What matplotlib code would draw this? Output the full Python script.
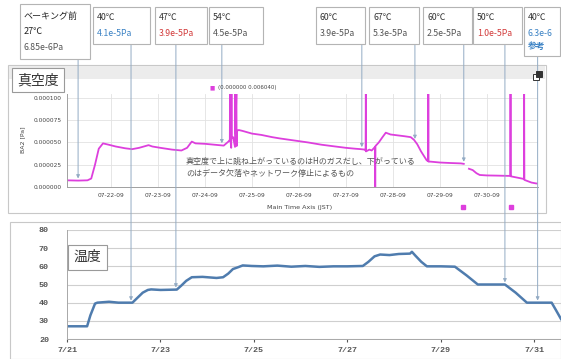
import matplotlib
matplotlib.use("Agg")
import matplotlib.pyplot as plt
import numpy as np
from matplotlib.patches import Rectangle
from matplotlib.transforms import blended_transform_factory

W, H = 561, 359
plt.rcParams["font.family"] = ["Noto Sans CJK JP", "DejaVu Sans"]

# --- data -------------------------------------------------------------------
# days counted from 7/21 00:00
# BA2 pressure in 1e-5 Pa (nan = data gap, 10.5 = spike off the scale)
press_day = [0.06, 0.30, 0.50, 0.58, 0.66, 0.74, 0.83, 0.95, 1.10, 1.30, 1.45,
             1.60, 1.80, 1.88, 2.05, 2.30, 2.50, 2.62, 2.72, 2.80, 3.00, 3.20,
             3.40, 3.50, 3.53, 3.535, 3.54, 3.56, 3.565, 3.57, 3.60, 3.64,
             3.645, 3.65, 3.67, 3.675, 3.68, 3.72, 3.80, 4.00, 4.20, 4.43,
             4.60, 4.80, 5.00, 5.20, 5.48, 5.70, 6.00, 6.20, 6.32, 6.40,
             6.42, 6.425, 6.43, 6.50, 6.55, 6.62, 6.625, 6.63, 6.70, 6.78,
             6.85, 6.95, 7.10, 7.25, 7.38, 7.45, 7.52, 7.60, 7.66, 7.72,
             7.75, 7.755, 7.76, 7.80, 8.00, 8.20, 8.45, 8.51, 8.56, 8.62,
             8.70, 8.78, 8.85, 9.00, 9.20, 9.45, 9.50, 9.505, 9.51, 9.70,
             9.79, 9.795, 9.80, 9.95, 10.05, 10.10]
press_val = [0.75, 0.72, 0.75, 0.95, 2.5, 4.3, 4.9, 4.75, 4.55, 4.35, 4.25,
             4.4, 4.7, 4.55, 4.4, 4.2, 4.1, 4.4, 5.1, 4.9, 4.85, 4.75,
             4.65, 5.1, 5.3, 10.5, 5.4, 4.4, 10.5, 5.5, 5.6, 4.5,
             10.5, 6.0, 10.5, 4.6, 6.3, 6.4, 6.3, 6.0, 5.85, 5.6,
             5.45, 5.3, 5.15, 5.0, 4.75, 4.6, 4.4, 4.3, 4.25, 4.2,
             4.1, 10.5, 4.0, 4.2, 4.1, 4.5, 0.0, 4.6, 5.0, 5.6,
             6.1, 5.9, 5.8, 5.7, 5.6, 5.3, 4.8, 4.0, 3.5, 3.0,
             2.9, 10.5, 2.85, 2.85, 2.75, 2.7, 2.65, 2.6, np.nan, 2.05,
             1.9, 1.55, 1.35, 1.3, 1.28, 1.25, 1.25, 10.5, 1.2, 1.0,
             0.9, 10.5, 0.8, 0.5, 0.4, 0.38]
marker_days = [8.49, 9.51]

temp_day = [0.0, 0.43, 0.50, 0.60, 0.65, 0.90, 1.10, 1.40, 1.50, 1.62, 1.73,
            1.80, 2.00, 2.35, 2.45, 2.55, 2.67, 2.90, 3.20, 3.34, 3.45, 3.55,
            3.66, 3.76, 3.95, 4.20, 4.50, 4.80, 5.10, 5.40, 5.70, 6.00, 6.33,
            6.45, 6.58, 6.70, 6.90, 7.10, 7.34, 7.38, 7.45, 7.58, 7.70, 8.00,
            8.30, 8.55, 8.79, 9.00, 9.37, 9.60, 9.84, 10.10, 10.37, 10.46,
            10.57]
temp_val = [27, 27, 33, 39.5, 40, 40.5, 40, 40, 42.5, 45.5, 47,
            47.3, 47, 47.2, 49.5, 52, 54, 54.2, 53.6, 54, 56, 58.5,
            59.5, 60.5, 60.2, 60, 60.4, 59.8, 60.2, 59.7, 60, 60, 60.2,
            62.5, 65.5, 66.5, 66.2, 66.8, 67, 68, 66, 62.5, 60, 60,
            59.8, 55, 50, 50, 50, 45.5, 40, 40, 40, 36, 31]

top_tick_days = [1, 2, 3, 4, 5, 6, 7, 8, 9]
top_tick_labels = ["07-22-09", "07-23-09", "07-24-09", "07-25-09", "07-26-09",
                   "07-27-09", "07-28-09", "07-29-09", "07-30-09"]
bot_tick_days = [0, 2, 4, 6, 8, 10]
bot_tick_labels = ["7/21", "7/23", "7/25", "7/27", "7/29", "7/31"]

box_heads = ["27℃", "40℃", "47℃", "54℃", "60℃", "67℃", "60℃", "50℃", "40℃"]
box_press = ["6.85e-6Pa", "4.1e-5Pa", "3.9e-5Pa", "4.5e-5Pa", "3.9e-5Pa",
             "5.3e-5Pa", "2.5e-5Pa", "1.0e-5Pa", "6.3e-6"]
box_colors = ["#555555", "#3b82c4", "#d23a3a", "#555555", "#555555",
              "#555555", "#555555", "#d23a3a", "#3b82c4"]
# which panel each callout points to, and at which day
arrow_panel = ["top", "bot", "bot", "top", "top", "top", "top", "bot", "bot"]
arrow_day = [0.30, 1.37, 2.33, 3.36, 6.34, 7.47, 8.51, 9.37, 10.07]

# layout (pixels)
box_x = [(20, 90), (93, 150), (155, 207), (209, 263), (316, 365),
         (369, 419), (423, 472), (473, 522), (524, 560)]
box_bottom = [59, 44, 44, 44, 44, 44, 44, 44, 56]

MAGENTA = "#dd3fdd"
STEEL = "#4f7cae"
ARROW = "#93abc4"
INK = "#444444"


def fx(px):
    return px / W


def fy(py):
    return 1 - py / H


def frect(x0, y0, x1, y1, **kw):
    fig.patches.append(Rectangle((fx(x0), fy(y1)), (x1 - x0) / W, (y1 - y0) / H,
                                 transform=fig.transFigure, **kw))


fig = plt.figure(figsize=(W / 100, H / 100), dpi=100)

# panel frames
frect(8, 65, 546, 213, facecolor="white", edgecolor="#c8c8c8", lw=0.8, zorder=-2)
frect(9, 66, 545, 79, facecolor="#ececec", edgecolor="none", zorder=-1)
frect(10, 222, 561, 359, facecolor="white", edgecolor="#c8c8c8", lw=0.8, zorder=-2)

# --- top panel: vacuum ------------------------------------------------------
ax_top = fig.add_axes([fx(67), fy(187), 471 / W, 92.6 / H])
ax_top.plot(press_day, np.array(press_val) * 1e-5, color=MAGENTA, lw=1.3)
ax_top.set_xlim(0.064, 10.09)
ax_top.set_ylim(0, 1.04e-4)
ax_top.set_yticks([0, 2.5e-5, 5e-5, 7.5e-5, 1e-4])
ax_top.set_yticklabels([f"{v:.6f}" for v in [0, 2.5e-5, 5e-5, 7.5e-5, 1e-4]],
                       family="DejaVu Sans")
ax_top.set_xticks(top_tick_days)
ax_top.set_xticklabels(top_tick_labels, family="DejaVu Sans")
ax_top.tick_params(labelsize=4.2, colors=INK, length=0, pad=4)
ax_top.grid(color="#e2e2e2", lw=0.6)
ax_top.set_axisbelow(True)
for s in ["top", "right"]:
    ax_top.spines[s].set_visible(False)
for s in ["left", "bottom"]:
    ax_top.spines[s].set_color("#a0a0a0")
    ax_top.spines[s].set_linewidth(0.7)

trans = blended_transform_factory(ax_top.transData, ax_top.transAxes)
ax_top.plot(marker_days, [-0.215] * len(marker_days), "s", ms=2.2,
            color=MAGENTA, transform=trans, clip_on=False)

fig.text(fx(23), fy(140), "BA2 [Pa]", rotation=90, ha="center", va="center",
         fontsize=4.5, color=INK, family="DejaVu Sans")
fig.text(fx(300), fy(208), "Main Time Axis (JST)", ha="center", va="center",
         fontsize=4.6, color=INK, family="DejaVu Sans")
fig.text(fx(212), fy(88), "■", ha="center", va="center", fontsize=4,
         color=MAGENTA, family="DejaVu Sans")
fig.text(fx(218), fy(88), "(0.000000 0.006040)", ha="left", va="center",
         fontsize=4, color=INK, family="DejaVu Sans")
fig.text(fx(186), fy(161), "真空度で上に跳ね上がっているのはHのガスだし、下がっている",
         ha="left", va="center", fontsize=5.8, color="#555555")
fig.text(fx(186), fy(173), "のはデータ欠落やネットワーク停止によるもの",
         ha="left", va="center", fontsize=5.8, color="#555555")

frect(12, 68, 64, 92, facecolor="white", edgecolor="#9a9a9a", lw=0.8, zorder=2)
fig.text(fx(38), fy(80), "真空度", ha="center", va="center", fontsize=10,
         color="#333333", zorder=3)
frect(533, 74, 539, 80, facecolor="white", edgecolor="#333333", lw=0.7, zorder=2)
frect(536, 71, 542, 77, facecolor="#333333", edgecolor="#333333", lw=0.7, zorder=2)

# --- bottom panel: temperature ------------------------------------------
ax_bot = fig.add_axes([fx(67), fy(339), (561 - 67) / W, 109 / H])
ax_bot.set_facecolor("none")
ax_bot.plot(temp_day, temp_val, color=STEEL, lw=1.8)
ax_bot.set_xlim(0, 10.57)
ax_bot.set_ylim(20, 80)
ax_bot.set_yticks(range(20, 81, 10))
ax_bot.set_xticks(bot_tick_days)
ax_bot.set_xticklabels(bot_tick_labels)
for lab in ax_bot.get_xticklabels() + ax_bot.get_yticklabels():
    lab.set_family("Liberation Mono")
    lab.set_fontweight("bold")
ax_bot.tick_params(axis="y", labelsize=6, colors="#555555", length=0, pad=13)
ax_bot.tick_params(axis="x", labelsize=6, colors="#555555", length=2, pad=4)
ax_bot.grid(axis="y", color="#cfcfcf", lw=0.8)
ax_bot.set_axisbelow(True)
for s in ["top", "right"]:
    ax_bot.spines[s].set_visible(False)
for s in ["left", "bottom"]:
    ax_bot.spines[s].set_color("#a8a8a8")
    ax_bot.spines[s].set_linewidth(0.7)

frect(68, 245, 107, 270, facecolor="white", edgecolor="#9a9a9a", lw=0.8, zorder=2)
fig.text(fx(87.5), fy(257), "温度", ha="center", va="center", fontsize=10,
         color="#333333", zorder=3)

# --- callout boxes and arrows ------------------------------------------
for i, (x0, x1) in enumerate(box_x):
    frect(x0, 7 if i else 4, x1, box_bottom[i], facecolor="white",
          edgecolor="#b4b4b4", lw=0.8, zorder=2)
    tx = x0 + 4
    if i == 0:
        fig.text(fx(tx), fy(16), "ベーキング前", fontsize=6.5, color="#222222",
                 va="center", zorder=3)
        fig.text(fx(tx), fy(32), box_heads[i], fontsize=6.5, color="#222222",
                 va="center", zorder=3)
        fig.text(fx(tx), fy(47), box_press[i], fontsize=6.3,
                 color=box_colors[i], va="center", zorder=3)
    else:
        fig.text(fx(tx), fy(18), box_heads[i], fontsize=6.3, color="#333333",
                 va="center", zorder=3)
        fig.text(fx(tx), fy(33), box_press[i], fontsize=6.3,
                 color=box_colors[i], va="center", zorder=3)
    if i == 8:
        fig.text(fx(tx), fy(46), "参考", fontsize=6.3, color=box_colors[i],
                 fontweight="bold", va="center", zorder=3)

    ax = ax_top if arrow_panel[i] == "top" else ax_bot
    if arrow_panel[i] == "top":
        yv = np.interp(arrow_day[i], press_day,
                       np.nan_to_num(np.array(press_val))) * 1e-5
    else:
        yv = np.interp(arrow_day[i], temp_day, temp_val)
    ax.annotate("", xy=(arrow_day[i], yv), xycoords="data",
                xytext=(arrow_day[i], fy(box_bottom[i])),
                textcoords=("data", "figure fraction"),
                arrowprops=dict(arrowstyle="-|>", color=ARROW, lw=0.7,
                                mutation_scale=5, shrinkA=0, shrinkB=1.5),
                annotation_clip=False, zorder=6)

fig.savefig("out.png", dpi=100)
